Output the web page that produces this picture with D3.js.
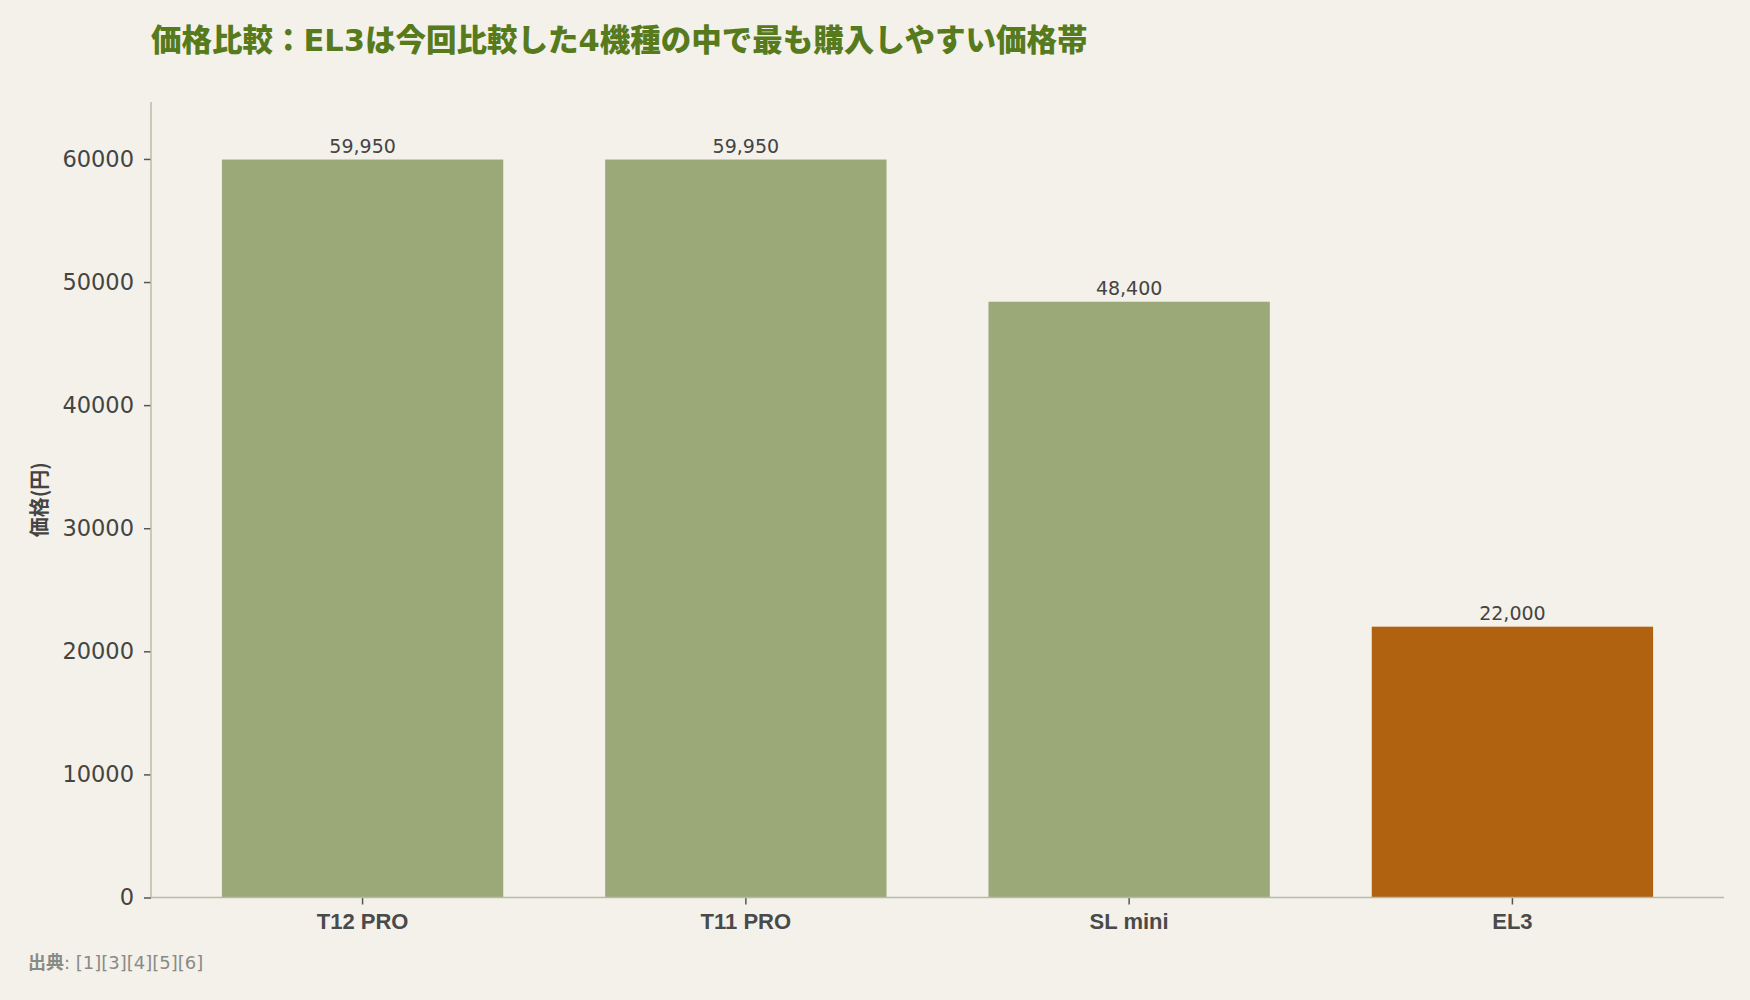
<!DOCTYPE html>
<html>
  <head>
    <meta charset="utf-8" />
    <title>価格比較</title>
    <script src="https://cdn.jsdelivr.net/npm/d3@7"></script>
    <style type="text/css">
      body { margin: 0; background: #f3f1ea; }
      svg { font-family: "DejaVu Sans", "Noto Sans CJK JP", sans-serif; }
    </style>
  </head>
  <body>
    <svg id="chart" width="1750" height="1000"></svg>
    <script type="text/javascript">
      // data
      var models = ['T12 PRO', 'T11 PRO', 'SL mini', 'EL3'];
      var prices = [59950, 59950, 48400, 22000];
      var yTicks = [0, 10000, 20000, 30000, 40000, 50000, 60000];
      var highlight = 'EL3';

      var W = 1750, H = 1000;
      var m = { left: 151, right: 26, top: 102, bottom: 102.5 };
      var svg = d3.select('#chart');

      svg.append('rect').attr('width', W).attr('height', H).attr('fill', '#f3f1ea');

      var data = models.map((d, i) => ({ name: d, price: prices[i] }));

      var x = d3.scaleBand()
        .domain(models)
        .range([m.left, W - m.right])
        .paddingInner(0.266)
        .paddingOuter(0.185);

      var y = d3.scaleLinear()
        .domain([0, d3.max(prices) * 1.078])
        .range([H - m.bottom, m.top]);

      // bars
      svg.append('g')
        .selectAll('rect')
        .data(data)
        .enter()
        .append('rect')
        .attr('x', (d) => x(d.name))
        .attr('width', x.bandwidth())
        .attr('y', (d) => y(d.price))
        .attr('height', (d) => y(0) - y(d.price))
        .attr('fill', (d) => (d.name === highlight ? '#b06210' : '#9ba877'));

      // value labels
      svg.append('g')
        .selectAll('text')
        .data(data)
        .enter()
        .append('text')
        .attr('x', (d) => x(d.name) + x.bandwidth() / 2)
        .attr('y', (d) => y(d.price) - 7)
        .attr('text-anchor', 'middle')
        .attr('font-size', 19)
        .attr('fill', '#444')
        .text((d) => d3.format(',')(d.price));

      // axes
      var yAxis = svg.append('g')
        .attr('transform', 'translate(' + m.left + ',0)')
        .call(d3.axisLeft(y).tickValues(yTicks).tickFormat(d3.format('d')).tickSize(7).tickPadding(10));
      yAxis.select('.domain').remove();
      yAxis.selectAll('.tick line').attr('stroke', '#555').attr('stroke-width', 1.5);
      yAxis.selectAll('.tick text').attr('font-size', 22.5).attr('fill', '#444')
        .attr('font-family', '"DejaVu Sans", sans-serif');
      svg.append('line')
        .attr('x1', m.left).attr('x2', m.left)
        .attr('y1', m.top).attr('y2', y(0))
        .attr('stroke', '#b6bca8').attr('stroke-width', 1.5);

      var xAxis = svg.append('g')
        .attr('transform', 'translate(0,' + y(0) + ')')
        .call(d3.axisBottom(x).tickSize(7).tickPadding(9));
      xAxis.select('.domain').remove();
      xAxis.selectAll('.tick line').attr('stroke', '#555').attr('stroke-width', 1.5);
      xAxis.selectAll('.tick text').attr('font-size', 22).attr('font-weight', 700).attr('fill', '#4a4a4a')
        .attr('font-family', '"Liberation Sans", sans-serif');
      svg.append('line')
        .attr('x1', m.left).attr('x2', W - m.right)
        .attr('y1', y(0)).attr('y2', y(0))
        .attr('stroke', '#b6bca8').attr('stroke-width', 1.5);

      // y label
      svg.append('text')
        .attr('transform', 'translate(47,' + (m.top + y(0)) / 2 + ') rotate(-90)')
        .attr('text-anchor', 'middle')
        .attr('font-size', 20)
        .attr('font-weight', 700)
        .attr('fill', '#444')
        .attr('font-family', '"Noto Sans CJK JP", sans-serif')
        .text('価格(円)');

      // title
      svg.append('text')
        .attr('x', 151)
        .attr('y', 51)
        .attr('font-size', 30.5)
        .attr('font-weight', 900)
        .attr('fill', '#567a1c')
        .text('価格比較：EL3は今回比較した4機種の中で最も購入しやすい価格帯');

      // source
      var src = svg.append('text')
        .attr('x', 28)
        .attr('y', 969)
        .attr('font-size', 18)
        .attr('fill', '#8a8a85');
      src.append('tspan').attr('font-weight', 700).attr('font-family', '"Noto Sans CJK JP", sans-serif').text('出典');
      src.append('tspan').text(': [1][3][4][5][6]');
    </script>
  </body>
</html>
